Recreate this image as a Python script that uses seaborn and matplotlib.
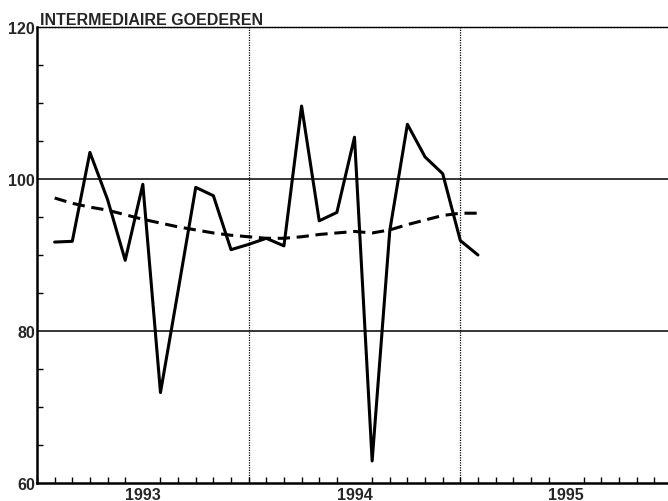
import matplotlib
matplotlib.use('Agg')
import matplotlib.pyplot as plt
from matplotlib.ticker import MultipleLocator
import seaborn as sns
import numpy as np
import pandas as pd

# Maandindex vanaf januari 1993 (1 = jan 1993)
maand = list(range(1, 26))

index = [91.7, 91.8, 103.5, 97.3, 89.3, 99.3, 71.9, 85.3, 98.9, 97.8, 90.7, 91.4,
         92.2, 91.2, 109.6, 94.5, 95.6, 105.5, 62.9, 93.2, 107.2, 102.9, 100.7, 91.9,
         90.0]

# Trend (gestippelde lijn)
trend = [97.5, 96.8, 96.3, 95.9, 95.3, 94.7, 94.2, 93.7, 93.3, 92.9, 92.6, 92.4,
         92.2, 92.2, 92.4, 92.7, 92.9, 93.1, 92.9, 93.3, 94.0, 94.6, 95.2, 95.5,
         95.5]

jaren = ['1993', '1994', '1995']
titel = 'INTERMEDIAIRE GOEDEREN'

sns.set_style('white')
plt.rcParams['font.family'] = ['Liberation Sans', 'DejaVu Sans']

df = pd.DataFrame({'maand': maand, 'index': index, 'trend': trend})

fig = plt.figure(figsize=(6.68, 5.02), dpi=100)
ax = fig.add_axes([37 / 668, 18 / 502, 635 / 668, 456 / 502])

sns.lineplot(data=df, x='maand', y='index', color='black', lw=2.2, ax=ax)
sns.lineplot(data=df, x='maand', y='trend', color='black', lw=2.2,
             linestyle=(0, (4, 2.2)), ax=ax)

ax.set_xlim(0, 12 * len(jaren))
ax.set_ylim(60, 120)

# hulplijnen
for y in [80, 100]:
    ax.axhline(y, color='black', lw=1.1, zorder=1)
for i in range(1, len(jaren)):
    ax.axvline(12 * i, color='black', lw=0.9, linestyle=(0, (1, 1)), zorder=1)

# assen
ax.set_yticks([60, 80, 100, 120])
ax.yaxis.set_minor_locator(MultipleLocator(5))
ax.set_xticks([12 * i + 6 for i in range(len(jaren))])
ax.set_xticklabels(jaren)
ax.xaxis.set_minor_locator(MultipleLocator(1))

ax.tick_params(axis='x', which='major', length=0, pad=3, labelsize=11.5)
ax.tick_params(axis='x', which='minor', direction='in', length=4, width=1,
               bottom=True, color='black')
ax.tick_params(axis='y', which='major', length=0, pad=1.5, labelsize=11.5)
ax.tick_params(axis='y', which='minor', direction='in', length=4, width=1,
               left=True, color='black')
for lab in ax.get_xticklabels() + ax.get_yticklabels():
    lab.set_fontweight('bold')

ax.set_xlabel('')
ax.set_ylabel('')

for s in ['left', 'bottom']:
    ax.spines[s].set_color('black')
    ax.spines[s].set_linewidth(1.8)
ax.spines['top'].set_color('black')
ax.spines['top'].set_linewidth(1.0)
ax.spines['top'].set_linestyle((0, (1.5, 0.7)))
ax.spines['right'].set_visible(False)

fig.text(40 / 668, 1 - 25 / 502, titel, fontsize=11.5, fontweight='bold',
         ha='left', va='baseline')

fig.savefig('out.png', dpi=100)
